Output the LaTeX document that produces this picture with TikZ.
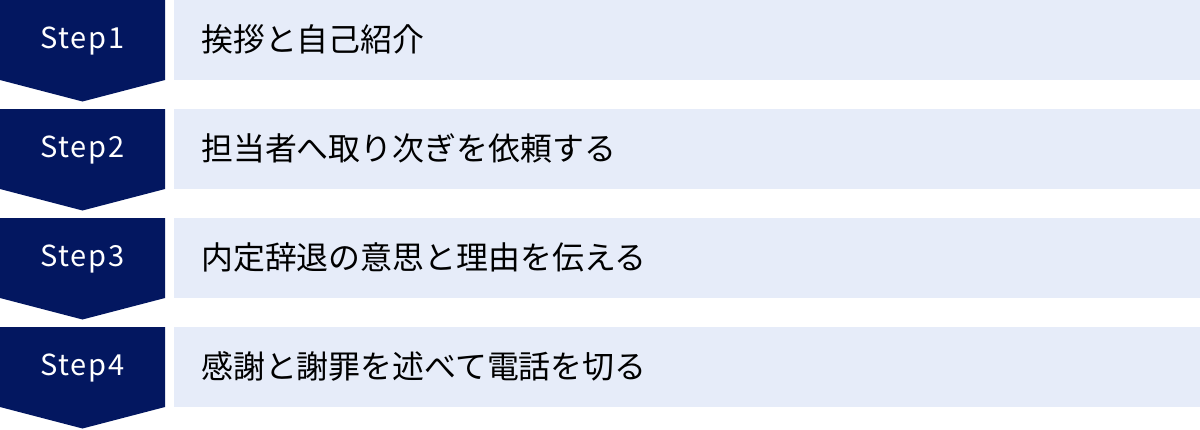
\documentclass[tikz,border=0pt]{standalone}
\usepackage{fontspec}
\setmainfont{Noto Sans CJK JP}
\newfontfamily\jpfont{Noto Sans CJK JP}
\newfontfamily\steplabelfont[LetterSpace=6]{Noto Sans CJK JP}
\usepackage{tikz}
\usetikzlibrary{positioning}
\definecolor{stepnavy}{HTML}{031760}
\definecolor{rowblue}{HTML}{E6ECF9}

\begin{document}
\begin{tikzpicture}[x=1pt,y=-1pt,
        steplabel/.style={text=white,font=\steplabelfont\fontsize{29}{32}\selectfont,inner sep=0pt},
        rowtext/.style={text=black,font=\jpfont\fontsize{31.9}{36}\selectfont,inner sep=0pt,anchor=west}]
        \useasboundingbox (0,0) rectangle (1200,429);
        \foreach \i/\txt in {1/挨拶と自己紹介,2/担当者へ取り次ぎを依頼する,3/内定辞退の意思と理由を伝える,4/感謝と謝罪を述べて電話を切る}{
            \pgfmathsetmacro{\t}{109*(\i-1)}
            \fill[stepnavy] (0,\t)--(165,\t)--(165,\t+80)--(82.5,\t+101.5)--(0,\t+80)--cycle;
            \fill[rowblue] (174,\t) rectangle (1200,\t+80);
            \node[steplabel] (step\i) at (82.5,\t+41) {Step\i};
            \node[rowtext] (task\i) at (201,\t+39) {\txt};
        }
    \end{tikzpicture}
\end{document}
